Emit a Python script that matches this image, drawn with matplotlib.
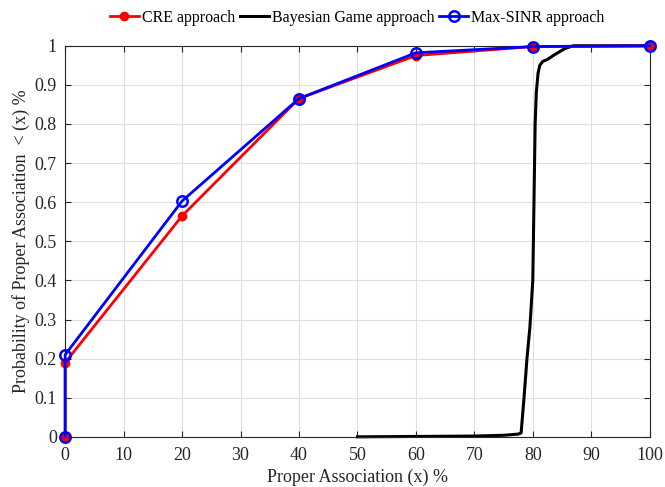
import matplotlib
matplotlib.use("Agg")
import matplotlib.pyplot as plt
import numpy as np

plt.rcParams['font.family'] = ['Liberation Serif', 'DejaVu Serif']
plt.rcParams['mathtext.fontset'] = 'stix'

cre_x = [0, 0, 20, 40, 60, 80, 100]
cre_y = [0, 0.19, 0.565, 0.865, 0.975, 0.998, 1.0]

sinr_x = [0, 0, 20, 40, 60, 80, 100]
sinr_y = [0, 0.21, 0.603, 0.865, 0.982, 0.998, 1.0]

bg_x = [50, 60, 70, 75, 77.5, 78.0, 78.5, 79.0, 79.5, 80.0, 80.2, 80.4, 80.6, 80.9, 81.2, 81.7, 82.5, 83.5, 84.6, 85.5, 86.3, 87, 90, 100]
bg_y = [0, 0.001, 0.002, 0.004, 0.007, 0.01, 0.1, 0.2, 0.28, 0.4, 0.6, 0.8, 0.88, 0.93, 0.95, 0.96, 0.965, 0.975, 0.985, 0.993, 0.997, 1.0, 1.0, 1.0]

fig = plt.figure(figsize=(6.65, 4.87), dpi=100)
ax = fig.add_axes([0.098, 0.103, 0.879, 0.803])

ax.plot(cre_x, cre_y, '-o', color='red', lw=2, ms=6, mfc='red', mec='red', label='CRE approach', zorder=3, clip_on=False)
ax.plot(bg_x, bg_y, '-', color='black', lw=2.2, label='Bayesian Game approach', zorder=2, clip_on=False)
ax.plot(sinr_x, sinr_y, '-o', color='blue', lw=2, ms=7.5, mfc='none', mec='blue', mew=1.8, label='Max-SINR approach', zorder=4, clip_on=False)

ax.set_xlim(0, 100)
ax.set_ylim(0, 1)
ax.set_xticks(np.arange(0, 101, 10))
ax.set_yticks(np.arange(0, 1.01, 0.1))
ax.set_yticklabels(['0', '0.1', '0.2', '0.3', '0.4', '0.5', '0.6', '0.7', '0.8', '0.9', '1'])
ax.grid(True, color='#e0e0e0', lw=0.8)
ax.set_axisbelow(True)
ax.tick_params(direction='in', length=4.5, labelsize=13, colors='#262626', top=True, right=True, labeltop=False, labelright=False)
ax.tick_params(axis='x', pad=7)
ax.tick_params(axis='y', pad=6)
for s in ax.spines.values():
    s.set_color('#262626')
    s.set_linewidth(0.8)

ax.set_xlabel('Proper Association (x) %', fontsize=13, color='#262626', labelpad=4)
ax.set_ylabel('Probability of Proper Association  < (x) %', fontsize=13, color='#262626', labelpad=3)

leg = ax.legend(loc='lower center', bbox_to_anchor=(0.5, 1.035), ncol=3, frameon=False,
                fontsize=11.5, handlelength=1.8, handletextpad=0.2, columnspacing=0.3, borderaxespad=0)

fig.savefig('out.png', dpi=100)
